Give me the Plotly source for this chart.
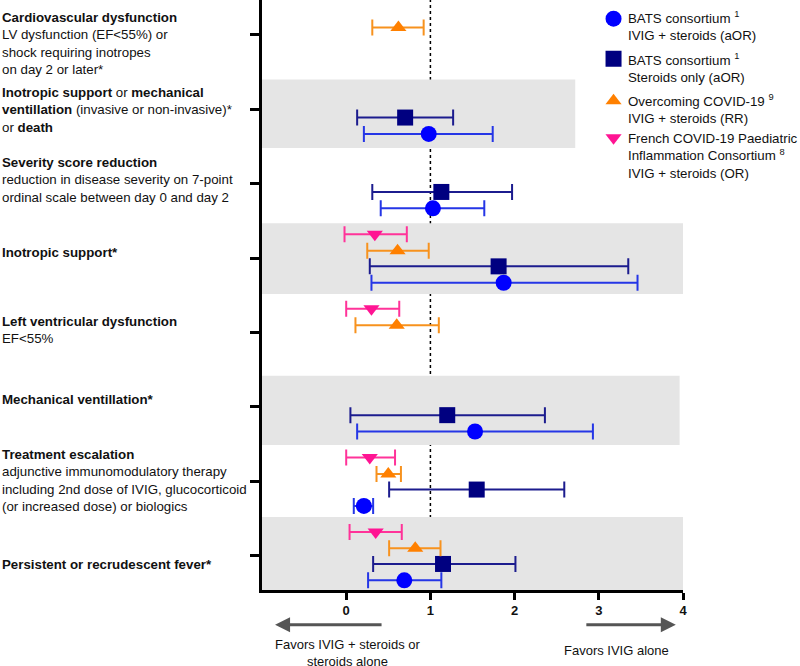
import plotly.graph_objects as go

# ---- data ----
row_labels = [
    "<b>Cardiovascular dysfunction</b><br>LV dysfunction (EF<55%) or<br>shock requiring inotropes<br>on day 2 or later*",
    "<b>Inotropic support</b> or <b>mechanical<br>ventillation</b> (invasive or non-invasive)*<br>or <b>death</b>",
    "<b>Severity score reduction</b><br>reduction in disease severity on 7-point<br>ordinal scale between day 0 and day 2",
    "<b>Inotropic support*</b>",
    "<b>Left ventricular dysfunction</b><br>EF<55%",
    "<b>Mechanical ventillation*</b>",
    "<b>Treatment escalation</b><br>adjunctive immunomodulatory therapy<br>including 2nd dose of IVIG, glucocorticoid<br>(or increased dose) or biologics",
    "<b>Persistent or recrudescent fever*</b>",
]

series_names = [
    "BATS consortium <sup>1</sup><br>IVIG + steroids (aOR)",
    "BATS consortium <sup>1</sup><br>Steroids only (aOR)",
    "Overcoming COVID-19 <sup>9</sup><br>IVIG + steroids (RR)",
    "French COVID-19 Paediatric<br>Inflammation Consortium <sup>8</sup><br>IVIG + steroids (OR)",
]

bats_ivig_rows = [1, 2, 3, 5, 6, 7]
bats_ivig_est = [0.98, 1.03, 1.87, 1.53, 0.21, 0.69]
bats_ivig_lo = [0.21, 0.41, 0.30, 0.13, 0.09, 0.26]
bats_ivig_hi = [1.74, 1.64, 3.46, 2.93, 0.32, 1.13]

bats_ster_rows = [1, 2, 3, 5, 6, 7]
bats_ster_est = [0.70, 1.13, 1.81, 1.20, 1.55, 1.15]
bats_ster_lo = [0.13, 0.31, 0.28, 0.05, 0.51, 0.32]
bats_ster_hi = [1.27, 1.97, 3.35, 2.36, 2.59, 2.01]

overc_rows = [0, 3, 4, 6, 7]
overc_est = [0.62, 0.61, 0.60, 0.50, 0.82]
overc_lo = [0.31, 0.25, 0.11, 0.36, 0.51]
overc_hi = [0.92, 0.98, 1.10, 0.65, 1.12]

french_rows = [3, 4, 6, 7]
french_est = [0.34, 0.30, 0.28, 0.35]
french_lo = [-0.02, 0.00, 0.00, 0.04]
french_hi = [0.72, 0.63, 0.58, 0.66]

x_ticks = [0, 1, 2, 3, 4]
shaded_rows = [1, 3, 5, 7]

# ---- style ----
FONT = "Liberation Sans, Arial, Helvetica, sans-serif"
TXT = "#111"
series = [
    dict(rows=bats_ivig_rows, est=bats_ivig_est, lo=bats_ivig_lo, hi=bats_ivig_hi, off=0.33,
         symbol="circle", size=16, color="#0000ff", bar="#2536e6"),
    dict(rows=bats_ster_rows, est=bats_ster_est, lo=bats_ster_lo, hi=bats_ster_hi, off=0.11,
         symbol="square", size=16, color="#000080", bar="#1c1c8e"),
    dict(rows=overc_rows, est=overc_est, lo=overc_lo, hi=overc_hi, off=-0.10,
         symbol="triangle-up", size=14, color="#ff8000", bar="#f7921e"),
    dict(rows=french_rows, est=french_est, lo=french_lo, hi=french_hi, off=-0.32,
         symbol="triangle-down", size=14, color="#ff1493", bar="#ff3399"),
]
# legend key positions (paper coords): marker centre y, text block centre y
legend_marker_y = [0.9678, 0.9000, 0.8288, 0.7661]
legend_text_y = [0.9551, 0.8839, 0.8161, 0.7364]
legend_ids = ["legend", "legend2", "legend3", "legend4"]

fig = go.Figure()
for i, s in enumerate(series):
    ys = [r + s["off"] for r in s["rows"]]
    fig.add_trace(go.Scatter(
        x=s["est"], y=ys, mode="markers", name=" ",
        legend=legend_ids[i],
        marker=dict(symbol=s["symbol"], size=s["size"], color=s["color"], line=dict(width=0)),
        error_x=dict(type="data", symmetric=False,
                     array=[h - e for h, e in zip(s["hi"], s["est"])],
                     arrayminus=[e - l for e, l in zip(s["est"], s["lo"])],
                     color=s["bar"], thickness=2, width=8),
    ))

shapes = []
band_x1 = {1: 2.72, 3: 4.0, 5: 3.96, 7: 4.0}
band_y = {1: (0.60, 1.52), 3: (2.53, 3.48), 5: (4.58, 5.51), 7: (6.48, 7.46)}
for r in shaded_rows:
    shapes.append(dict(type="rect", xref="x", yref="y", x0=-1, x1=band_x1[r],
                       y0=band_y[r][0], y1=band_y[r][1], fillcolor="#e5e5e5",
                       line=dict(width=0), layer="below"))
shapes.append(dict(type="line", xref="x", yref="paper", x0=1, x1=1, y0=0, y1=1,
                   line=dict(color="black", width=1.5, dash="dot"), layer="below"))

label_off = [0.11, 0.01, -0.05, -0.08, -0.03, -0.10, -0.01, 0.12]
annotations = []
for r, (lab, o) in enumerate(zip(row_labels, label_off)):
    annotations.append(dict(text=lab, xref="paper", yref="y", x=-0.6223, y=r + o,
                            xanchor="left", yanchor="middle", align="left", showarrow=False,
                            font=dict(family=FONT, size=13.3, color=TXT)))

for name, ty in zip(series_names, legend_text_y):
    annotations.append(dict(text=name, xref="paper", yref="paper", x=0.8646, y=ty,
                            xanchor="left", yanchor="middle", align="left", showarrow=False,
                            font=dict(family=FONT, size=13.3, color=TXT)))

# arrows and direction labels
annotations.append(dict(text="", xref="paper", yref="paper", x=0.031, y=-0.059,
                        ax=108, ay=0, showarrow=True, arrowhead=2, arrowsize=1,
                        arrowwidth=3, arrowcolor="#555"))
annotations.append(dict(text="", xref="paper", yref="paper", x=0.983, y=-0.059,
                        ax=-91, ay=0, showarrow=True, arrowhead=2, arrowsize=1,
                        arrowwidth=3, arrowcolor="#555"))
annotations.append(dict(text="Favors IVIG + steroids or<br>steroids alone", xref="paper", yref="paper",
                        x=0.204, y=-0.107, xanchor="center", yanchor="middle", showarrow=False,
                        font=dict(family=FONT, size=13, color=TXT)))
annotations.append(dict(text="Favors IVIG alone", xref="paper", yref="paper",
                        x=0.841, y=-0.103, xanchor="center", yanchor="middle", showarrow=False,
                        font=dict(family=FONT, size=13, color=TXT)))

layout_legends = {}
for lid, my in zip(legend_ids, legend_marker_y):
    layout_legends[lid] = dict(x=0.7875, y=my, xanchor="left", yanchor="middle",
                               bgcolor="rgba(0,0,0,0)", borderwidth=0,
                               font=dict(family=FONT, size=13.3, color=TXT))

fig.update_layout(
    width=800, height=666,
    margin=dict(l=262, r=117, t=0, b=76),
    plot_bgcolor="white", paper_bgcolor="white",
    font=dict(family=FONT, size=13, color=TXT),
    shapes=shapes, annotations=annotations,
    showlegend=True,
    xaxis=dict(range=[-1, 4], tickvals=x_ticks, showgrid=False, zeroline=False,
               showline=True, linecolor="black", linewidth=2.5,
               ticks="outside", ticklen=7, tickwidth=2.5, tickcolor="black",
               tickfont=dict(family=FONT, size=13, color=TXT, weight="bold")),
    yaxis=dict(range=[7.46, -0.47], tickvals=list(range(len(row_labels))), showticklabels=False,
               showgrid=False, zeroline=False, showline=True, linecolor="black", linewidth=2.5,
               ticks="outside", ticklen=9, tickwidth=2.5, tickcolor="black"),
    **layout_legends,
)

fig.write_html("out.html", config={"displayModeBar": False},
               post_script="document.body.style.margin='0px';")
